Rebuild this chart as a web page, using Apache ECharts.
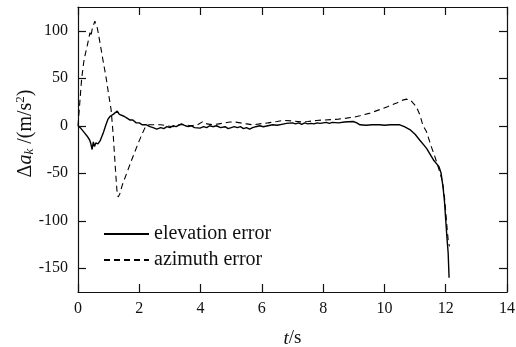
<!DOCTYPE html>
<html>
<head>
<meta charset="utf-8">
<script src="https://cdn.jsdelivr.net/npm/echarts@6/dist/echarts.min.js"></script>
<style>html,body{margin:0;padding:0;background:#fff}#c{width:516px;height:347px}</style>
</head>
<body>
<div id="c"></div>
<script>
var seriesNames = ['elevation error', 'azimuth error'];
var xTicks = [0, 2, 4, 6, 8, 10, 12, 14];
var yTicks = [-150, -100, -50, 0, 50, 100];

var elevT = [0,0.1,0.2,0.3,0.38,0.42,0.46,0.5,0.54,0.58,0.65,0.72,0.82,0.9,0.98,1.05,1.15,1.28,1.35,1.41,1.5,1.6,1.7,1.79,1.9,2.0,2.1,2.23,2.35,2.45,2.57,2.7,2.8,2.9,3.0,3.1,3.2,3.38,3.5,3.6,3.7,3.8,3.98,4.1,4.2,4.3,4.4,4.52,4.65,4.8,4.9,5.0,5.1,5.2,5.3,5.4,5.5,5.6,5.7,5.8,5.93,6.05,6.2,6.35,6.5,6.65,6.8,7.0,7.1,7.2,7.3,7.4,7.5,7.6,7.7,7.8,7.9,8.1,8.2,8.3,8.5,8.7,8.98,9.1,9.2,9.4,9.6,9.85,10.0,10.2,10.5,10.65,10.83,11.0,11.15,11.37,11.6,11.78,11.85,11.91,11.96,12.0,12.04,12.08,12.11];
var elevV = [0,-3,-7,-11,-15,-19,-25,-17,-22,-18,-19,-16,-8,0,7,10,12,15.5,12,11,10,8,6,6,3,3,1,1,-1,-2,-3.5,-2,-3,-1,-2,0,-1,2,0,-1,0,-2,-2.5,-1,-2,0,-1,0,-2,-1,-3,-2,-1,-2,-1,-3,-2,-3.5,-2,-1,0,-1,0,1,0.5,1.5,2.5,3,2,3,1.5,3,2,2.5,2,3,2.5,3.5,2.5,3.5,3,4,4.5,3,1,0.5,1,1,0.5,1,1,-1,-4,-9,-15,-23.5,-36,-43,-50,-64,-80,-99,-118,-134,-160];

var azT = [0,0.06,0.12,0.2,0.3,0.39,0.42,0.47,0.55,0.63,0.72,0.81,0.91,1.0,1.08,1.15,1.22,1.27,1.31,1.36,1.45,1.59,1.75,1.97,2.1,2.18,2.3,2.5,2.7,2.9,3.1,3.3,3.5,3.7,3.9,4.08,4.2,4.4,4.6,4.8,4.96,5.1,5.3,5.5,5.7,5.93,6.2,6.5,6.7,7.0,7.3,7.5,7.78,8.0,8.3,8.5,8.76,9.0,9.2,9.5,9.85,10.1,10.4,10.6,10.72,10.85,10.93,11.04,11.15,11.26,11.37,11.45,11.53,11.64,11.75,11.82,11.9,11.96,12.0,12.05,12.08,12.12];
var azV = [0,25,50,70,84,98,94,103,110,103,87,70,52,33,17,-10,-45,-68,-75,-72,-62,-50,-36,-18,-8,-2.5,1,1,1,0,-1,1,1,0,1,4.5,2,1,2,3,4,4,3,2,1,2,3,4.5,5.6,5,4,4.5,5.6,6,6.5,7,8,9,10.5,13,17,20,24,27,28,27,24,20,12,0,-6,-14,-22,-32,-43,-50,-60,-75,-90,-110,-120,-127];

function pairs(t, v) { return t.map(function (x, i) { return [x, v[i]]; }); }

var FONT = '"Liberation Serif", "Times New Roman", serif';
var chart = echarts.init(document.getElementById('c'), null, {renderer: 'canvas'});
var axisLine = {show: true, onZero: false, lineStyle: {color: '#111', width: 1.2}};
var tick = {show: true, inside: true, length: 8, lineStyle: {color: '#111', width: 1.2}};

chart.setOption({
  animation: false,
  backgroundColor: '#fff',
  grid: {left: 78, right: 9, top: 7, bottom: 55, containLabel: false, outerBoundsMode: 'none'},
  legend: {
    data: seriesNames,
    orient: 'vertical',
    left: 98, top: 219,
    itemWidth: 45, itemHeight: 14, itemGap: 6,
    itemStyle: {color: 'rgba(0,0,0,0)', borderWidth: 0, opacity: 0},
    textStyle: {fontFamily: FONT, fontSize: 20, color: '#111', lineHeight: 20},
    selectedMode: false
  },
  xAxis: [{
    type: 'value', min: 0, max: 14, interval: 2,
    axisLine: axisLine, axisTick: tick, splitLine: {show: false},
    axisLabel: {fontFamily: FONT, fontSize: 16, color: '#111', margin: 9},
    name: '{i|t}/s', nameLocation: 'middle', nameGap: 37, nameMoveOverlap: false,
    nameTextStyle: {fontFamily: FONT, fontSize: 19, color: '#111', rich: {i: {fontFamily: FONT, fontSize: 19, fontStyle: 'italic', color: '#111'}}}
  }, {
    type: 'value', position: 'top', min: 0, max: 14, interval: 2,
    axisLine: axisLine, axisTick: tick, axisLabel: {show: false}, splitLine: {show: false}
  }],
  yAxis: [{
    type: 'value', min: -175, max: 125,
    axisLine: axisLine,
    axisTick: {show: true, inside: true, length: 8, lineStyle: {color: '#111', width: 1.2}, customValues: yTicks},
    axisLabel: {fontFamily: FONT, fontSize: 16, color: '#111', margin: 10, customValues: yTicks},
    splitLine: {show: false},
    name: '{d|Δ}{a|a}{k|k} {n|/(m/s}{s|2}{n|)}', nameLocation: 'middle', nameGap: 41, nameMoveOverlap: false,
    nameTextStyle: {
      fontFamily: FONT, fontSize: 20, color: '#111', padding: [0, 0, 0, 32],
      rich: {
        d: {fontFamily: FONT, fontSize: 20, color: '#111'},
        a: {fontFamily: FONT, fontSize: 20, fontStyle: 'italic', color: '#111'},
        k: {fontFamily: FONT, fontSize: 13, fontStyle: 'italic', color: '#111', padding: [8, 0, 0, 0]},
        n: {fontFamily: FONT, fontSize: 20, color: '#111'},
        s: {fontFamily: FONT, fontSize: 13, color: '#111', padding: [0, 0, 10, 0]}
      }
    }
  }, {
    type: 'value', position: 'right', min: -175, max: 125,
    axisLine: axisLine,
    axisTick: {show: true, inside: true, length: 8, lineStyle: {color: '#111', width: 1.2}, customValues: yTicks},
    axisLabel: {show: false}, splitLine: {show: false}
  }],
  series: [{
    name: seriesNames[0], type: 'line', symbol: 'none', smooth: false,
    data: pairs(elevT, elevV),
    lineStyle: {color: '#000', width: 1.4, type: 'solid'},
    itemStyle: {color: '#000'}
  }, {
    name: seriesNames[1], type: 'line', symbol: 'none', smooth: false,
    data: pairs(azT, azV),
    lineStyle: {color: '#000', width: 1.1, type: [6, 4]},
    itemStyle: {color: '#000'}
  }]
});
</script>
</body>
</html>
